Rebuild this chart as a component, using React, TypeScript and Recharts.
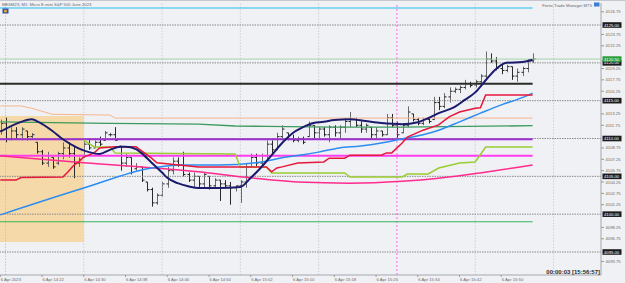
import React from "react";
import {
  ComposedChart,
  Bar,
  Line,
  XAxis,
  YAxis,
  ReferenceLine,
  ReferenceArea,
} from "recharts";

// one M1 bar per minute, t = minutes after 14:14
const highs = [
  4112.5, 4112.75, 4111.5, 4111.5, 4111.5, 4111.0, 4110.75, 4109.5, 4108.5, 4108.25,
  4107.5, 4108.25, 4109.5, 4109.5, 4109.0, 4107.5, 4109.75, 4110.0, 4109.75, 4110.25,
  4111.0, 4110.75, 4111.5, 4109.0, 4108.0, 4107.5, 4106.75, 4106.25, 4104.25, 4103.5,
  4102.75, 4104.25, 4106.25, 4107.5, 4107.5, 4108.25, 4105.5, 4105.5, 4105.0, 4105.5,
  4105.0, 4104.75, 4104.5, 4104.5, 4104.25, 4103.75, 4104.5, 4106.75, 4108.0, 4108.0,
  4108.0, 4109.75, 4109.75, 4110.75, 4111.75, 4110.75, 4110.5, 4110.25, 4110.25, 4112.25,
  4111.75, 4111.5, 4111.5, 4111.75, 4111.75, 4111.75, 4112.75, 4113.5, 4112.75, 4112.25,
  4112.0, 4111.5, 4111.5, 4111.0, 4113.25, 4113.25, 4112.25, 4112.0, 4114.25, 4113.25,
  4112.75, 4112.75, 4112.75, 4115.5, 4115.5, 4116.0, 4116.75, 4116.75, 4117.0, 4117.75,
  4117.5, 4117.75, 4118.5, 4121.5, 4121.25, 4120.75, 4119.75, 4119.75, 4119.5, 4119.25,
  4119.5, 4120.5, 4121.25,
];
const lows = [
  4110.5, 4109.5, 4109.75, 4110.0, 4109.75, 4109.75, 4110.0, 4108.0, 4106.5, 4106.25,
  4106.0, 4106.5, 4107.25, 4107.5, 4104.75, 4106.25, 4107.5, 4108.5, 4108.75, 4109.0,
  4109.75, 4110.25, 4109.75, 4105.75, 4106.25, 4105.25, 4105.75, 4104.25, 4103.0, 4101.0,
  4101.25, 4102.25, 4103.5, 4105.25, 4106.25, 4105.0, 4104.25, 4103.5, 4103.5, 4103.5,
  4103.25, 4103.5, 4101.75, 4103.5, 4101.25, 4103.0, 4101.5, 4103.5, 4106.25, 4106.25,
  4106.5, 4107.25, 4108.0, 4108.5, 4109.75, 4109.75, 4109.5, 4109.5, 4109.25, 4110.25,
  4110.0, 4110.0, 4110.25, 4109.5, 4110.25, 4110.0, 4110.75, 4111.5, 4111.5, 4110.75,
  4110.75, 4110.0, 4110.0, 4110.25, 4110.5, 4111.5, 4110.0, 4110.75, 4111.5, 4112.25,
  4111.75, 4111.75, 4112.0, 4112.5, 4113.75, 4114.0, 4114.75, 4116.0, 4116.0, 4116.5,
  4116.75, 4116.75, 4117.0, 4117.75, 4120.0, 4119.0, 4118.5, 4118.75, 4117.75, 4117.5,
  4118.25, 4118.75, 4120.0,
];
const opens = [
  4111.0, 4112.0, 4110.0, 4111.0, 4110.5, 4111.0, 4110.25, 4109.5, 4108.25, 4106.75,
  4107.5, 4106.75, 4108.0, 4108.75, 4108.0, 4106.75, 4107.5, 4109.25, 4108.75, 4109.5,
  4109.75, 4110.5, 4110.5, 4109.0, 4106.75, 4107.5, 4106.0, 4106.25, 4104.25, 4103.25,
  4101.5, 4102.5, 4104.0, 4105.75, 4107.0, 4106.5, 4105.25, 4104.5, 4105.0, 4104.0,
  4105.0, 4103.75, 4104.5, 4104.0, 4103.75, 4103.5, 4103.75, 4104.25, 4106.25, 4107.5,
  4106.75, 4107.75, 4109.25, 4108.5, 4110.25, 4110.75, 4110.0, 4109.75, 4110.0, 4110.25,
  4111.75, 4110.75, 4111.25, 4110.5, 4111.5, 4110.75, 4111.5, 4112.25, 4112.5, 4111.75,
  4111.25, 4111.5, 4110.5, 4111.0, 4110.5, 4112.75, 4111.75, 4110.75, 4111.75, 4113.25,
  4112.5, 4112.0, 4112.5, 4112.5, 4114.75, 4114.25, 4115.5, 4116.25, 4116.5, 4116.75,
  4117.25, 4117.0, 4117.5, 4118.25, 4120.5, 4120.25, 4119.25, 4119.0, 4119.5, 4118.25,
  4118.75, 4119.25, 4120.25,
];
const closes = [
  4112.0, 4110.0, 4111.0, 4110.5, 4111.25, 4110.25, 4110.5, 4108.25, 4106.75, 4107.75,
  4106.25, 4108.0, 4108.75, 4108.0, 4106.75, 4107.25, 4109.25, 4108.75, 4109.5, 4109.25,
  4110.75, 4110.5, 4109.75, 4106.75, 4107.5, 4105.5, 4106.25, 4104.5, 4103.25, 4101.5,
  4102.5, 4104.0, 4105.75, 4107.0, 4106.5, 4105.25, 4104.5, 4105.0, 4104.0, 4105.25,
  4103.75, 4104.5, 4104.0, 4103.75, 4103.5, 4103.75, 4104.25, 4106.25, 4107.5, 4106.75,
  4107.75, 4109.25, 4108.5, 4110.25, 4111.25, 4110.0, 4109.75, 4110.0, 4109.5, 4111.75,
  4110.75, 4111.25, 4110.5, 4111.5, 4110.75, 4111.5, 4112.25, 4112.5, 4111.75, 4111.25,
  4111.75, 4110.5, 4111.0, 4110.5, 4112.75, 4111.75, 4110.5, 4111.75, 4113.5, 4112.5,
  4112.0, 4112.5, 4112.25, 4114.75, 4114.25, 4115.5, 4116.25, 4116.5, 4116.75, 4117.25,
  4117.0, 4117.5, 4118.25, 4120.5, 4120.25, 4119.25, 4119.0, 4119.5, 4118.25, 4118.75,
  4119.25, 4120.25, 4120.5,
];

// indicator points [t, price]
const navyMa = [
  [0, 4110.9], [4, 4112.2], [6, 4112.55], [7, 4112.3], [10, 4111.0], [12, 4109.9], [15, 4108.7],
  [17, 4108.2], [19, 4107.95], [21, 4108.5], [23, 4108.9], [24, 4108.9], [26, 4108.6], [27, 4108.1],
  [29, 4106.8], [31, 4105.5], [32, 4104.8], [34, 4104.1], [36, 4103.7], [38, 4103.45], [42, 4103.45],
  [46, 4103.6], [48, 4104.8], [50, 4106.2], [52, 4107.8], [54, 4109.4], [56, 4110.7], [58, 4111.5],
  [60, 4112.05], [62, 4112.2], [64, 4112.45], [67, 4112.55], [70, 4112.3], [73, 4112.05], [77, 4111.9],
  [80, 4112.15], [82, 4112.7], [84, 4113.35], [87, 4114.15], [89, 4115.1], [91, 4116.1], [93, 4117.7],
  [95, 4119.2], [97, 4120.0], [100, 4120.1], [102, 4120.4],
];
const blueMa = [
  [0, 4099.9], [16, 4103.45], [29, 4106.1], [35, 4106.5], [42, 4106.5], [50, 4106.9], [54, 4107.45],
  [58, 4107.85], [61, 4108.2], [65, 4108.75], [69, 4109.0], [73, 4109.4], [77, 4109.95], [81, 4110.5],
  [84, 4111.1], [88, 4112.2], [92, 4113.35], [96, 4114.45], [100, 4115.4], [102, 4116.0],
];
const pinkMa = [
  [0, 4107.7], [16, 4106.8], [38, 4105.6], [48, 4104.8], [57, 4104.25], [67, 4104.1], [77, 4104.35],
  [84, 4104.75], [92, 4105.45], [102, 4106.5],
];
const redLine = [
  [0, 4104.5], [3, 4104.5], [4, 4104.85], [12, 4104.9], [13, 4105.6], [14, 4106.4], [15, 4106.9],
  [16, 4107.55], [18, 4108.1], [19, 4108.75], [22, 4108.9], [26, 4108.9], [29, 4107.4], [30, 4106.8],
  [38, 4106.25], [51, 4106.25], [52, 4105.6], [53, 4106.1], [54, 4106.25], [57, 4106.75], [62, 4106.9],
  [63, 4107.4], [66, 4107.4], [67, 4107.8], [73, 4107.8], [74, 4108.1], [75, 4108.1], [77, 4109.4],
  [78, 4110.2], [81, 4111.1], [84, 4111.8], [86, 4112.85], [88, 4113.5], [91, 4114.0], [92, 4114.05],
  [93, 4115.75], [102, 4115.75],
];
const limeLine = [
  [16, 4109.8], [18, 4108.88], [21, 4108.88], [22, 4108.08], [45, 4107.95], [46, 4106.23], [51, 4106.23],
  [52, 4105.44], [66, 4105.44], [67, 4104.91], [77, 4104.91], [78, 4105.31], [82, 4105.31], [84, 4106.1],
  [88, 4106.76], [91, 4106.89], [93, 4108.88], [102, 4108.88],
];
const orangeLine = [
  [0, 4114.3], [4, 4114.3], [6, 4114.0], [10, 4113.2], [21, 4113.1], [22, 4112.7], [102, 4112.7],
];
const greenLine = [
  [0, 4112.2], [10, 4112.1], [21, 4112.0], [38, 4111.9], [45, 4111.65], [51, 4111.6], [64, 4111.5],
  [77, 4111.5], [102, 4111.7],
];

// horizontal objects
const levelPrices = [4127.25, 4117.25, 4109.9, 4107.72, 4099.0];
const levelStyles = [
  { stroke: "#1ec0f2", width: 1.2 },
  { stroke: "#2a2a2a", width: 2 },
  { stroke: "#9b2fcf", width: 2 },
  { stroke: "#ff3cf0", width: 2 },
  { stroke: "#36b45a", width: 1.2 },
];
const roundLevels = [4125, 4120, 4115, 4110, 4105, 4100, 4095];
const bidPrice = 4120.5;

const priceLabels = [
  4126.75, 4123.75, 4122.25, 4119.25, 4117.75, 4116.25, 4113.25, 4111.75, 4108.75, 4107.25,
  4105.75, 4104.25, 4102.75, 4101.25, 4098.25, 4096.75, 4093.75,
];
const timeTicks = [0, 8, 16, 24, 32, 40, 48, 56, 64, 72, 80, 88, 96];
const timeLabels = [
  "6 Apr 2023", "6 Apr 14:22", "6 Apr 14:30", "6 Apr 14:38", "6 Apr 14:46", "6 Apr 14:54",
  "6 Apr 15:02", "6 Apr 15:10", "6 Apr 15:18", "6 Apr 15:26", "6 Apr 15:34", "6 Apr 15:42",
  "6 Apr 15:50",
];
const gridTimes = [16, 31, 46, 61, 91, 106];
const sessionTime = 76;
const shadedBox = { t1: -0.05, t2: 16, p1: 4096.33, p2: 4112.97 };

const series: [string, number[][]][] = [
  ["navy", navyMa],
  ["blue", blueMa],
  ["pink", pinkMa],
  ["red", redLine],
  ["lime", limeLine],
  ["orange", orangeLine],
  ["green", greenLine],
];

const rows = highs.map((h, t) => {
  const r: any = { t, high: h, low: lows[t], open: opens[t], close: closes[t] };
  series.forEach(([key, pts]) => {
    const hit = pts.find((p) => p[0] === t);
    if (hit) r[key] = hit[1];
  });
  return r;
});

const FONT = "'Liberation Sans', Arial, sans-serif";
const X_MIN = -0.05;
const X_MAX = 115.1;
const LAST_T = highs.length - 1;

const OhlcBar = (props: any) => {
  const { x, y, width, height, payload } = props;
  if (payload == null || x == null) return <g />;
  const top = Math.min(y, y + height);
  const h = Math.abs(height);
  const k = h / (payload.high - payload.low || 1);
  const cx = Math.round(x + width / 2) + 0.5;
  const yo = top + (payload.high - payload.open) * k;
  const yc = top + (payload.high - payload.close) * k;
  const col = payload.close >= payload.open ? "#6a6a6a" : "#2a2a2a";
  return (
    <g>
      <line x1={cx} x2={cx} y1={top} y2={top + h} stroke={col} strokeWidth={1} />
      <line x1={cx - 2} x2={cx} y1={yo} y2={yo} stroke="#1e1e1e" strokeWidth={1} />
      <line x1={cx} x2={cx + 2} y1={yc} y2={yc} stroke="#1e1e1e" strokeWidth={1} />
    </g>
  );
};

const PriceTick = (props: any) => {
  const { x, y, payload } = props;
  const v = payload.value;
  const isBid = v === bidPrice;
  if (isBid || roundLevels.includes(v)) {
    return (
      <g>
        <rect x={x + 1.5} y={y - 2.8} width={19} height={5.6} fill={isBid ? "#2e9e3a" : "#1c1c1c"} />
        <text x={x + 3} y={y} dy="0.36em" fontSize={4.2} fontFamily={FONT} fill="#ffffff">
          {v.toFixed(2)}
        </text>
      </g>
    );
  }
  return (
    <g>
      <line x1={x} x2={x + 3} y1={y} y2={y} stroke="#9a9a9a" />
      <text x={x + 4.5} y={y} dy="0.36em" fontSize={4.2} fontFamily={FONT} fill="#6a6a6a">
        {v.toFixed(2)}
      </text>
    </g>
  );
};

const TimeTick = (props: any) => {
  const { x, y, payload, index } = props;
  return (
    <g>
      <line x1={x} x2={x} y1={y} y2={y + 2} stroke="#9a9a9a" />
      <text x={x + 0.5} y={y + 5.8} fontSize={4.2} fontFamily={FONT} fill="#6a6a6a">
        {timeLabels[index] ?? ""}
      </text>
    </g>
  );
};

export default function App() {
  const ticks = [...priceLabels, ...roundLevels, bidPrice];
  return (
    <div style={{ position: "relative", width: 625, height: 283, background: "#f0f1f4" }}>
      <style>{"body{margin:0}"}</style>
      <ComposedChart
        width={625}
        height={283}
        data={rows}
        margin={{ top: 3, right: 0, bottom: 0, left: 0 }}
      >
        <ReferenceArea
          x1={shadedBox.t1}
          x2={shadedBox.t2}
          y1={shadedBox.p1}
          y2={shadedBox.p2}
          fill="#f6d9a9"
          fillOpacity={1}
          stroke="none"
        />
        <ReferenceLine x={1} stroke="#d8c48e" strokeDasharray="1.5 1.5" />
        {gridTimes.map((g) => (
          <ReferenceLine key={`g${g}`} x={g} stroke="#cdd0d6" strokeDasharray="1.5 1.5" />
        ))}
        <ReferenceLine x={sessionTime} stroke="#ff66f0" strokeDasharray="2 2" />
        {roundLevels.map((p) => (
          <ReferenceLine key={`r${p}`} y={p} stroke="#8a8a8a" strokeDasharray="1.5 1" />
        ))}
        <ReferenceLine y={bidPrice} stroke="#a6d3a6" strokeWidth={1} />
        {levelPrices.map((p, i) => (
          <ReferenceLine
            key={`l${i}`}
            segment={[
              { x: X_MIN, y: p },
              { x: LAST_T, y: p },
            ]}
            stroke={levelStyles[i].stroke}
            strokeWidth={levelStyles[i].width}
          />
        ))}
        <XAxis
          type="number"
          dataKey="t"
          domain={[X_MIN, X_MAX]}
          allowDataOverflow
          ticks={timeTicks}
          interval={0}
          height={8}
          tickSize={0}
          tickMargin={0}
          axisLine={{ stroke: "#a4a7ad" }}
          tickLine={false}
          tick={<TimeTick />}
        />
        <YAxis
          orientation="right"
          type="number"
          domain={[4091.96, 4127.91]}
          allowDataOverflow
          ticks={ticks}
          interval={0}
          width={24}
          tickSize={0}
          tickMargin={0}
          axisLine={{ stroke: "#a4a7ad" }}
          tickLine={false}
          tick={<PriceTick />}
        />
        <Line type="linear" dataKey="orange" stroke="#f7b68c" strokeWidth={1} dot={false} connectNulls isAnimationActive={false} />
        <Line type="linear" dataKey="green" stroke="#3c9a5e" strokeWidth={1.4} dot={false} connectNulls isAnimationActive={false} />
        <Line type="monotone" dataKey="pink" stroke="#ff2b8e" strokeWidth={1.5} dot={false} connectNulls isAnimationActive={false} />
        <Line type="monotone" dataKey="blue" stroke="#2b8df0" strokeWidth={1.5} dot={false} connectNulls isAnimationActive={false} />
        <Line type="linear" dataKey="lime" stroke="#9acd32" strokeWidth={1.5} dot={false} connectNulls isAnimationActive={false} />
        <Line type="linear" dataKey="red" stroke="#e6173c" strokeWidth={1.5} dot={false} connectNulls isAnimationActive={false} />
        <Bar
          dataKey={(d: any) => [d.low, d.high]}
          barSize={4}
          shape={(p: any) => <OhlcBar {...p} />}
          isAnimationActive={false}
        />
        <Line type="monotone" dataKey="navy" stroke="#1b1b6e" strokeWidth={2} dot={false} connectNulls isAnimationActive={false} />
      </ComposedChart>
      <svg
        width={625}
        height={283}
        style={{ position: "absolute", left: 0, top: 0, pointerEvents: "none" }}
      >
        <line x1={0} x2={625} y1={0.5} y2={0.5} stroke="#c4c7cd" />
        <text x={2} y={5.6} fontSize={4.2} fontFamily={FONT} fill="#6a6a6a">
          MESM23, M1:  Micro E-mini S&amp;P 500 June 2023
        </text>
        <rect x={2.5} y={8.5} width={6} height={5} fill="#2c50b4" />
        <rect x={4} y={9.8} width={3} height={2.6} fill="#d9a23c" />
        <text x={592} y={6.5} fontSize={4.2} fontFamily={FONT} fill="#6a6a6a" textAnchor="end">
          Forex Trade Manager MT5
        </text>
        <rect x={594} y={2.5} width={5.5} height={4} fill="#3a7fd6" />
        <text x={600} y={273.8} fontSize={6} fontWeight="bold" fontFamily={FONT} fill="#2b2b2b" textAnchor="end">
          00:00:03 [15:56:57]
        </text>
      </svg>
    </div>
  );
}
